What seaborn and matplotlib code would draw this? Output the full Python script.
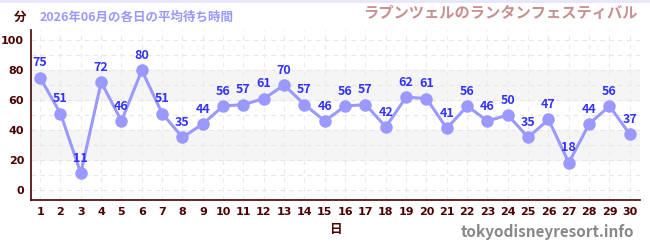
import numpy as np
import pandas as pd
import matplotlib
matplotlib.use('Agg')
import matplotlib.pyplot as plt
import seaborn as sns

# daily average waits, June 2026
days = list(range(1, 31))
waits = [75, 51, 11, 72, 46, 80, 51, 35, 44, 56, 57, 61, 70, 57, 46,
         56, 57, 42, 62, 61, 41, 56, 46, 50, 35, 47, 18, 44, 56, 37]
title_left = '2026年06月の各日の平均待ち時間'
title_right = 'ラプンツェルのランタンフェスティバル'
y_unit = '分'
x_label = '日'
credit = 'tokyodisneyresort.info'

sns.set_style('white')
plt.rcParams['font.family'] = ['Noto Sans CJK JP', 'DejaVu Sans']

df = pd.DataFrame({'day': days, 'wait': waits})

fig = plt.figure(figsize=(6.5, 2.5), dpi=100)
ax = fig.add_axes([31 / 650, 50 / 250, 609 / 650, 170 / 250])

axis_col = '#4d0000'
line_col = '#9999ff'

# shaded bands
for lo, hi in [(20, 40), (60, 80)]:
    ax.axhspan(lo, hi, color='#f5f5f5', zorder=0)

# grid
for d in days:
    ax.axvline(d, color='#ebebeb', lw=0.8, ls=(0, (4, 4)), zorder=0.5)
for yv in range(0, 101, 10):
    ax.axhline(yv, color='#e6e6e6', lw=0.8, ls=(0, (4, 4)), zorder=0.5)

sns.lineplot(data=df, x='day', y='wait', ax=ax, color=line_col, lw=2.2,
             marker='o', markersize=9, markeredgewidth=0, zorder=3)

for d, w in zip(days, waits):
    ax.annotate(str(w), (d, w), xytext=(0, 6), textcoords='offset points',
                ha='center', va='bottom', color='#3333ff', fontsize=9,
                fontweight='bold', zorder=4)

ax.set_xlim(0.55, 30.5)
ax.set_ylim(-7, 107)
ax.set_xticks(days)
ax.set_yticks(range(0, 101, 20))
ax.set_yticks(range(10, 100, 20), minor=True)
ax.tick_params(axis='both', labelsize=8, colors=axis_col, length=4)
ax.tick_params(axis='y', pad=1)
ax.tick_params(axis='y', which='minor', length=3, color='red')
ax.tick_params(axis='x', color='#777777', length=4, width=2, pad=1)
for lab in ax.get_xticklabels() + ax.get_yticklabels():
    lab.set_fontweight('bold')
    lab.set_family('DejaVu Sans')
ax.set_xlabel(x_label, color=axis_col, fontsize=9, fontweight='bold', labelpad=4)
ax.set_ylabel('')
for s in ['top', 'right']:
    ax.spines[s].set_visible(False)
for s in ['left', 'bottom']:
    ax.spines[s].set_color(axis_col)
    ax.spines[s].set_linewidth(1.2)

fig.text(14 / 650, 1 - 17 / 250, y_unit, color=axis_col, fontsize=9,
         fontweight='bold', va='center')
fig.text(40 / 650, 1 - 17 / 250, title_left, color='#9999ff', fontsize=9,
         fontweight='bold', va='center')
fig.text(638 / 650, 1 - 13 / 250, title_right, color='#c89090', fontsize=11,
         fontweight='bold', va='center', ha='right')
fig.text(634 / 650, 1 - 232 / 250, credit, color='#888888', fontsize=11,
         fontweight='bold', va='center', ha='right')
fig.add_artist(plt.Line2D([0, 1], [1 - 1 / 250, 1 - 1 / 250], color='#e6e6fa', lw=2))

fig.savefig('out.png', dpi=100)
